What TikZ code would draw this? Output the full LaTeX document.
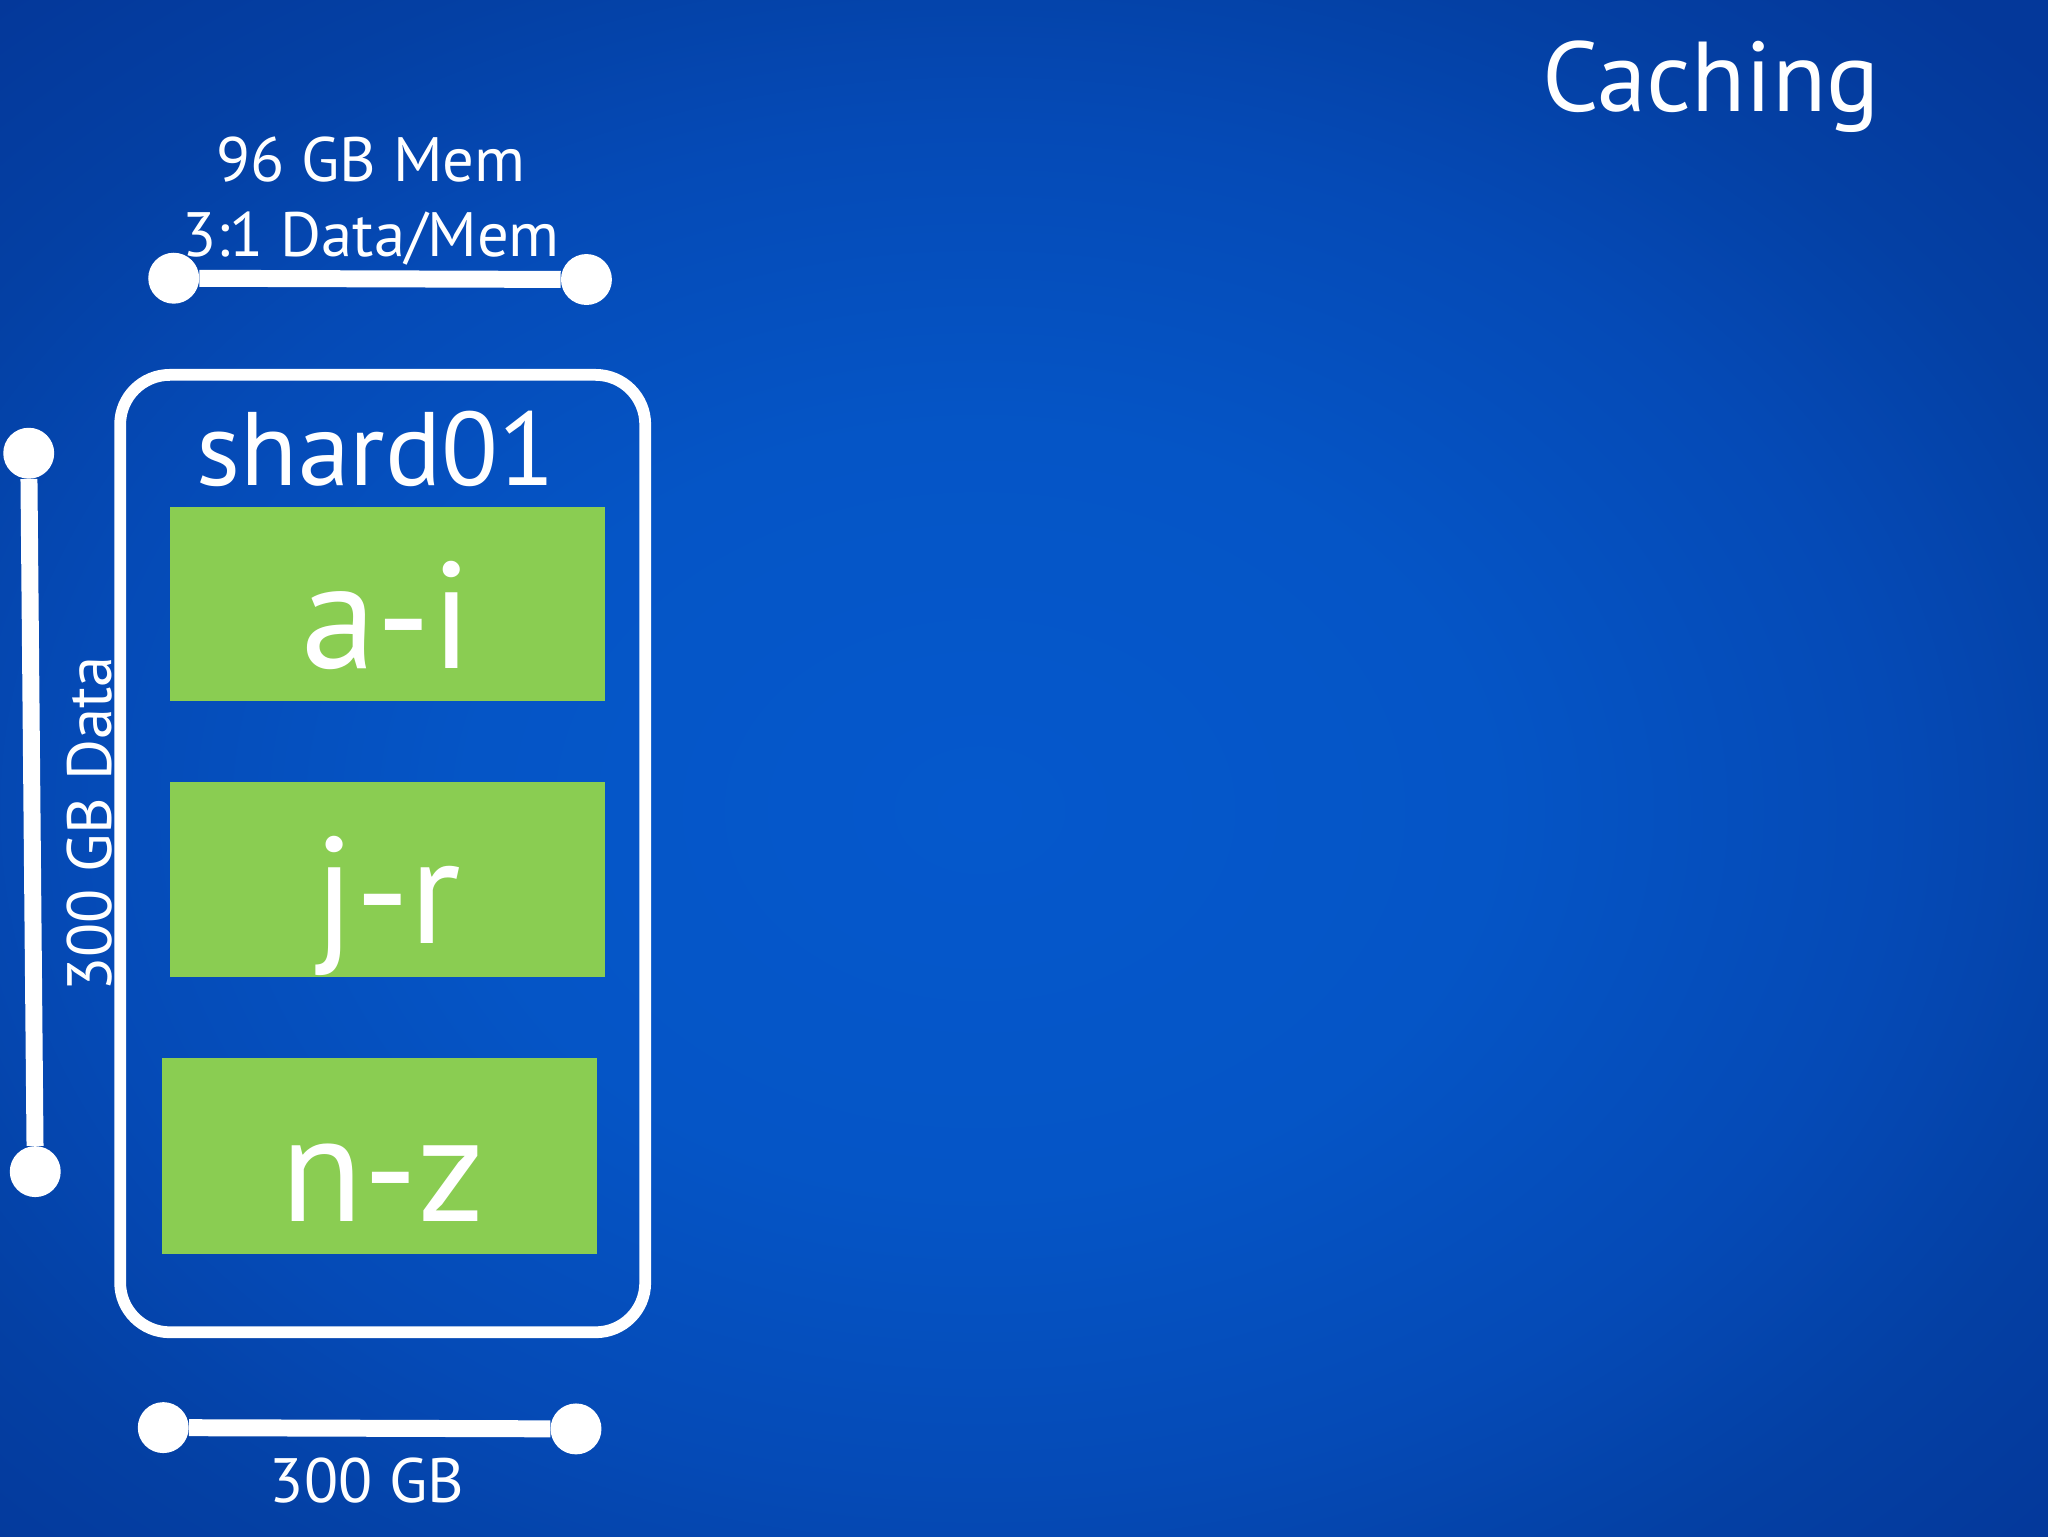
\documentclass[tikz,border=0pt]{standalone}
\usepackage{fontspec}
\setmainfont{PT Sans}
\definecolor{bg0}{HTML}{0558CC}
\definecolor{bg1}{HTML}{0555C6}
\definecolor{bg2}{HTML}{054AB6}
\definecolor{bg3}{HTML}{0440A4}
\definecolor{bg4}{HTML}{04389A}
\definecolor{boxgreen}{HTML}{8ACD52}
\pgfdeclareradialshading{bgshade}{\pgfpoint{0bp}{0bp}}{color(0bp)=(bg0); color(28bp)=(bg1); color(50bp)=(bg2); color(65bp)=(bg3); color(80bp)=(bg4)}
\tikzset{
  enddot/.style={circle, fill=white, minimum size=39pt, inner sep=0pt},
  measurebar/.style={draw=white, line width=13pt},
  rangebox/.style={fill=boxgreen, draw=none, inner sep=0pt},
  biglabel/.style={text=white, font=\fontsize{116}{124}\selectfont, anchor=base},
  lbl/.style={text=white, font=\fontsize{48}{56}\selectfont, anchor=base},
}
\begin{document}
\begin{tikzpicture}[x=1pt,y=-1pt]
\useasboundingbox (0,0) rectangle (1568,1176);
\begin{scope}
\clip (0,0) rectangle (1568,1176);
\fill[bg4] (0,0) rectangle (1568,1176);
\node[inner sep=0pt, xscale=13.9, yscale=10.4, transform shape] (bg) at (750,620) {\pgfuseshading{bgshade}};
\end{scope}

% title
\node[text=white, font=\fontsize{76}{84}\selectfont, anchor=base] (title) at (1310,85) {Caching};

% top measure
\node[lbl] (mem) at (284,139) {96 GB Mem};
\node[lbl] (ratio) at (284,196) {3:1 Data/Mem};
\node[enddot] (t1) at (133,213) {};
\node[enddot] (t2) at (449,214) {};
\draw[measurebar] (t1) -- (t2);

% left measure
\node[enddot] (l1) at (22,347) {};
\node[enddot] (l2) at (27,897) {};
\draw[measurebar] (l1) -- (l2);
\node[lbl, rotate=90] (data) at (85,631) {300 GB Data};

% shard box
\node[draw=white, line width=9pt, rounded corners=38pt, minimum width=402pt, minimum height=733pt, inner sep=0pt] (shard) at (293,653.5) {};
\node[text=white, font=\fontsize{80}{88}\selectfont, anchor=base] (name) at (288,372) {shard01};

\node[rangebox, minimum width=333pt, minimum height=149pt] (r1) at (297,462.5) {};
\node[rangebox, minimum width=333pt, minimum height=149pt] (r2) at (297,673.5) {};
\node[rangebox, minimum width=333pt, minimum height=150pt] (r3) at (290.5,885) {};
\node[biglabel] (t-ai) at (296,512) {a-i};
\node[biglabel] (t-jr) at (297,722) {j-r};
\node[biglabel] (t-nz) at (293,935) {n-z};

% bottom measure
\node[enddot] (b1) at (125,1093) {};
\node[enddot] (b2) at (441,1094) {};
\draw[measurebar] (b1) -- (b2);
\node[lbl] (size) at (281,1150) {300 GB};
\end{tikzpicture}
\end{document}
